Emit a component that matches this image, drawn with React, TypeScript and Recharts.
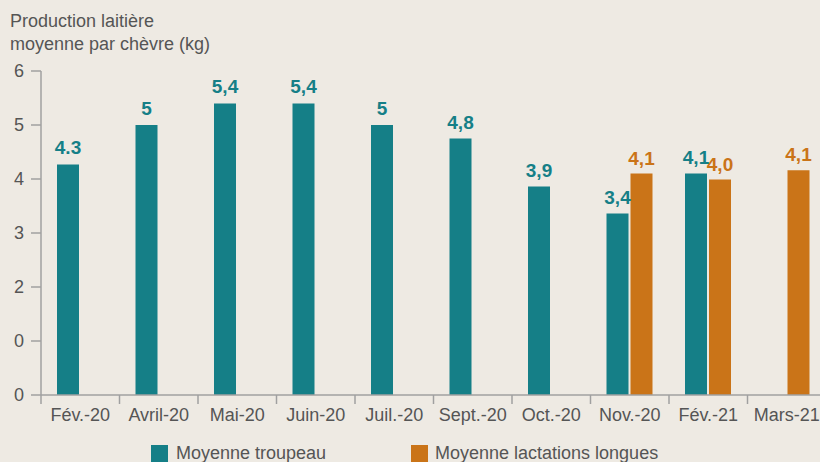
import React from 'react';
import { BarChart, Bar, XAxis, YAxis, LabelList } from 'recharts';

const months = ['Fév.-20', 'Avril-20', 'Mai-20', 'Juin-20', 'Juil.-20', 'Sept.-20', 'Oct.-20', 'Nov.-20', 'Fév.-21', 'Mars-21'];
const troupeau = [4.27, 5, 5.4, 5.4, 5, 4.75, 3.86, 3.36, 4.1, null];
const troupeauLabels = ['4.3', '5', '5,4', '5,4', '5', '4,8', '3,9', '3,4', '4,1', null];
const lactations = [null, null, null, null, null, null, null, 4.1, 3.99, 4.16];
const lactationsLabels = [null, null, null, null, null, null, null, '4,1', '4,0', '4,1'];
const yTicks = [0, 1, 2, 3, 4, 5, 6];
const yTickLabels = ['0', '0', '2', '3', '4', '5', '6'];

const TEAL = '#157F87';
const ORANGE = '#CA7418';
const TEXT = '#555555';
const AXIS = '#a0a0a0';
const FONT = '"Liberation Sans", Arial, sans-serif';

const data = months.map((m, i) => ({
  month: m,
  troupeau: troupeau[i],
  troupeauLabel: troupeauLabels[i],
  lactations: lactations[i],
  lactationsLabel: lactationsLabels[i],
}));

const MonthTick = (props: any) => {
  const { x, y, payload } = props;
  const half = payload && payload.offset ? payload.offset : 39.25;
  return (
    <g>
      <line x1={x - half} y1={y} x2={x - half} y2={y + 9} stroke={AXIS} strokeWidth={1.5} />
      <text x={x} y={y + 26} textAnchor="middle" fill={TEXT} fontSize={18} fontFamily={FONT}>
        {payload.value}
      </text>
    </g>
  );
};

const labelStyle = { fontSize: 19, fontWeight: 700, fontFamily: FONT };

export default function App() {
  return (
    <div style={{ position: 'absolute', left: 0, top: 0, width: 820, height: 462, overflow: 'hidden', background: '#EEEAE3', fontFamily: FONT }}>
      <div style={{ position: 'absolute', left: 10, top: 10, fontSize: 18, lineHeight: '23px', color: TEXT }}>
        Production laitière<br />moyenne par chèvre (kg)
      </div>
      <BarChart
        width={830}
        height={462}
        data={data}
        margin={{ top: 71, right: 4, bottom: 37, left: 0 }}
        barSize={22}
        barGap={2}
      >
        <XAxis
          dataKey="month"
          height={30}
          interval={0}
          tickLine={false}
          tickSize={0}
          tickMargin={0}
          axisLine={{ stroke: AXIS, strokeWidth: 1.5 }}
          tick={<MonthTick />}
        />
        <YAxis
          width={41}
          domain={[0, 6]}
          ticks={yTicks}
          interval={0}
          tickSize={10}
          tickMargin={7}
          tickFormatter={(v: number) => yTickLabels[yTicks.indexOf(v)]}
          tick={{ fill: TEXT, fontSize: 18, fontFamily: FONT }}
          tickLine={{ stroke: AXIS, strokeWidth: 1.5 }}
          axisLine={{ stroke: AXIS, strokeWidth: 1.5 }}
        />
        <Bar dataKey="troupeau" fill={TEAL} isAnimationActive={false}>
          <LabelList dataKey="troupeauLabel" position="top" offset={10} fill={TEAL} style={labelStyle} />
        </Bar>
        <Bar dataKey="lactations" fill={ORANGE} isAnimationActive={false}>
          <LabelList dataKey="lactationsLabel" position="top" offset={9} fill={ORANGE} style={labelStyle} />
        </Bar>
      </BarChart>
      <div style={{ position: 'absolute', left: 151, top: 445, width: 17, height: 17, background: TEAL }} />
      <div style={{ position: 'absolute', left: 176, top: 443, fontSize: 18, lineHeight: '21px', color: TEXT, whiteSpace: 'nowrap' }}>
        Moyenne troupeau
      </div>
      <div style={{ position: 'absolute', left: 411, top: 445, width: 17, height: 17, background: ORANGE }} />
      <div style={{ position: 'absolute', left: 435, top: 443, fontSize: 18, lineHeight: '21px', color: TEXT, whiteSpace: 'nowrap' }}>
        Moyenne lactations longues
      </div>
    </div>
  );
}
